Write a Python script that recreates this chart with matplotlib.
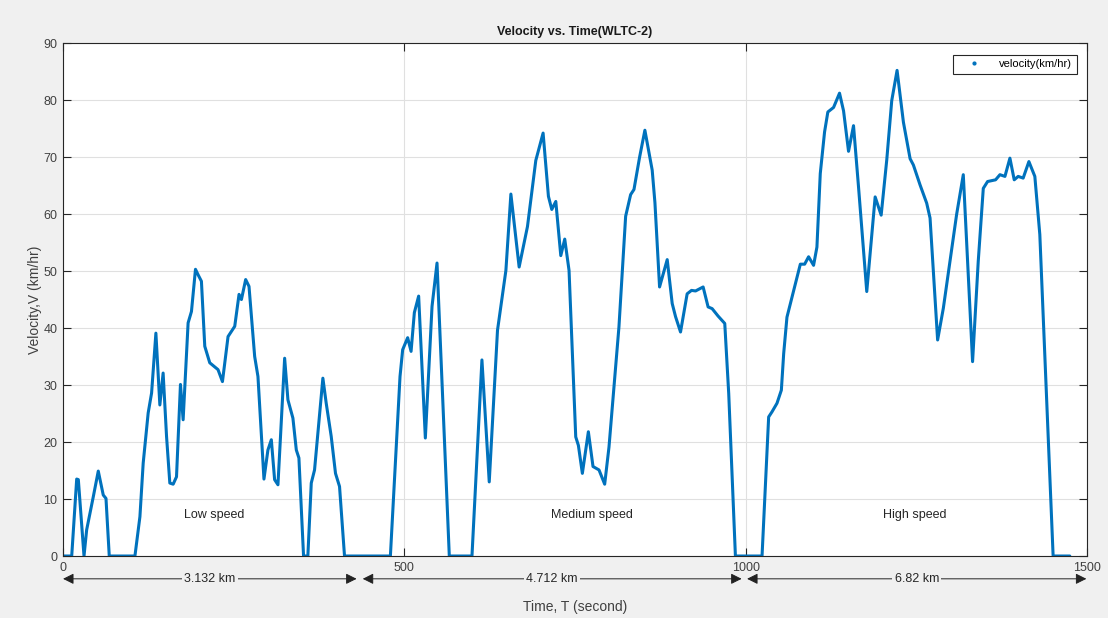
import matplotlib
matplotlib.use("Agg")
import matplotlib.pyplot as plt

# WLTC class 2 trace, breakpoints
time_s = [
    0, 12.7, 20, 22.4, 30.7, 34.6, 44.3, 51.6, 58.9, 62.9, 67.7, 105.3,
    112.6, 117.4, 124.7, 129.7, 136, 141.8, 146.6, 151.6, 156.4, 161.3, 166.2,
    172, 175.9, 183.2, 188.1, 194, 198, 202.7, 207.6, 214.9, 227, 233.5,
    241.7, 251.5, 257.8, 261.3, 267.5, 272.4, 280.7, 285.5, 294.3, 300.1,
    305.1, 309.9, 314.8, 324.6, 329.4, 336.7, 341.7, 345.5, 352.3, 358.6,
    363.6, 368.4, 380.6, 385.5, 392.8, 399.1, 405, 412.3, 479.5,
    487.8, 493.6, 497.5, 504.8, 509.8, 514.6, 520.9, 530.7, 540.5, 547.8,
    565.8, 599, 613.6, 624.3, 636.4, 648.7, 656, 668.1, 680.3, 692.5, 703.2,
    711, 715.9, 721.8, 729.1, 734.9, 741.2, 751, 754.9, 760.7, 769.5, 776.3,
    785.1, 793.4, 799.7, 814.3, 824.1, 831.4, 836.3, 844.6, 852.3, 863, 867,
    873.8, 885, 892.3, 897.2, 904.5, 914.2, 920.6, 926.5, 937.6, 944.9,
    950.8, 959.5, 969.3, 975.1, 984.9, 1023.9,
    1033.6, 1038.5, 1045.8, 1052.2, 1055.6, 1060.4, 1067.8, 1075.1, 1080,
    1086.3, 1092.1, 1099.4, 1104.3, 1109.2, 1115.5, 1120.3, 1128.7, 1137.4,
    1143.3, 1150.6, 1157.9, 1165.2, 1177.3, 1189.6, 1198.4, 1206.6, 1213.9,
    1221.7, 1231, 1240.8, 1245.6, 1255.4, 1265.1, 1270, 1281.1, 1289.5,
    1299.2, 1308.9, 1318.7, 1332.3, 1340.6, 1348, 1354.3, 1366, 1372.4,
    1379.7, 1387, 1393.3, 1399.1, 1406.4, 1414.8, 1423.5, 1430.8, 1450.3,
    1474.7,
]
speed_kmh = [
    0, 0, 13.5, 13.4, 0, 4.6, 10.4, 14.9, 10.7, 10.1, 0, 0,
    6.9, 16.3, 25.1, 28.6, 39.1, 26.5, 32.1, 21, 12.8, 12.6, 13.9,
    30.1, 23.9, 40.9, 42.9, 50.3, 49.3, 48.2, 36.8, 33.9, 32.7, 30.6,
    38.5, 40.3, 45.9, 45.0, 48.5, 47.3, 35, 31.5, 13.5, 18.6,
    20.4, 13.4, 12.5, 34.7, 27.4, 24.2, 18.6, 17.2, 0, 0,
    12.8, 15.1, 31.2, 26.8, 21, 14.5, 12.2, 0, 0,
    18.6, 31.5, 36.2, 38.3, 35.9, 42.7, 45.6, 20.7, 43.8, 51.4,
    0, 0, 34.4, 13.0, 39.6, 50.1, 63.5, 50.7, 57.8, 69.4, 74.2,
    63.1, 60.8, 62.2, 52.7, 55.6, 50.1, 20.9, 19.4, 14.5, 21.8, 15.7,
    15.1, 12.6, 19.1, 40.2, 59.6, 63.4, 64.3, 70, 74.7, 67.7, 62,
    47.2, 52, 44.3, 42, 39.3, 46, 46.6, 46.5, 47.2, 43.7,
    43.4, 42.1, 40.8, 28.5, 0, 0,
    24.4, 25.3, 26.8, 29.1, 35.5, 41.9, 45.4, 48.9, 51.2,
    51.2, 52.5, 51, 54.2, 67.1, 74.4, 77.9, 78.7, 81.2,
    78.1, 71, 75.5, 64.8, 46.4, 63, 59.8, 69.5, 79.9,
    85.2, 76.1, 69.7, 68.6, 65.1, 61.9, 59.3, 37.9, 43.5,
    51.7, 59.9, 66.9, 34.1, 51.7, 64.5, 65.7, 66, 66.9,
    66.6, 69.8, 66, 66.6, 66.3, 69.2, 66.6, 56.4, 0,
    0,
]

phase_names = ["Low speed", "Medium speed", "High speed"]
phase_label_pos = [222, 775, 1247]
distances = ["3.132 km", "4.712 km", "6.82 km"]
arrow_spans = [(0, 430), (439, 994), (1002, 1499)]

BG = "#f0f0f0"
BLUE = "#0072bd"
plt.rcParams["font.family"] = ["Liberation Sans", "DejaVu Sans"]

fig = plt.figure(figsize=(11.08, 6.18), dpi=100, facecolor=BG)
ax = fig.add_axes([0.0569, 0.1003, 0.9242, 0.8301])
ax.set_facecolor("white")

ax.plot(time_s, speed_kmh, color=BLUE, lw=2.2, solid_joinstyle="round",
        solid_capstyle="round")
# legend shows a dot marker as in the original
ax.plot([], [], ".", color=BLUE, markersize=4, label="velocity(km/hr)")

ax.set_xlim(0, 1500)
ax.set_ylim(0, 90)
ax.set_xticks([0, 500, 1000, 1500])
ax.set_yticks(range(0, 91, 10))
ax.grid(True, color="#e0e0e0", lw=0.8)
ax.set_axisbelow(True)
for s in ax.spines.values():
    s.set_color("#262626")
    s.set_linewidth(0.8)
ax.tick_params(direction="in", top=True, right=True, length=6, width=0.8,
               labelsize=9, labelcolor="#404040", color="#262626", pad=4)

ax.set_title("Velocity vs. Time(WLTC-2)", fontsize=9, fontweight="bold",
             color="#1a1a1a", pad=6)
ax.set_ylabel("Velocity,V (km/hr)", fontsize=10, color="#404040", labelpad=1)
ax.set_xlabel("Time, T (second)", fontsize=10, color="#404040", labelpad=19)

for name, xpos in zip(phase_names, phase_label_pos):
    ax.text(xpos, 7.2, name, fontsize=9, ha="center", va="center", color="#262626")

for (x0, x1), dist in zip(arrow_spans, distances):
    ax.annotate("", xy=(x1, -4.0), xytext=(x0, -4.0), annotation_clip=False,
                arrowprops=dict(arrowstyle="<|-|>", color="#222222", lw=0.7,
                                mutation_scale=16, shrinkA=0, shrinkB=0))
    ax.text((x0 + x1) / 2, -4.0, dist, fontsize=9, ha="center", va="center",
            color="#262626", clip_on=False,
            bbox=dict(facecolor=BG, edgecolor="none", pad=1.5))

leg = ax.legend(loc="upper right", bbox_to_anchor=(0.990, 0.977),
                borderaxespad=0, fontsize=8, fancybox=False, framealpha=1,
                edgecolor="#262626", handlelength=3, markerscale=1)
leg.get_frame().set_linewidth(0.8)

fig.savefig("out.png", dpi=100, facecolor=BG)
